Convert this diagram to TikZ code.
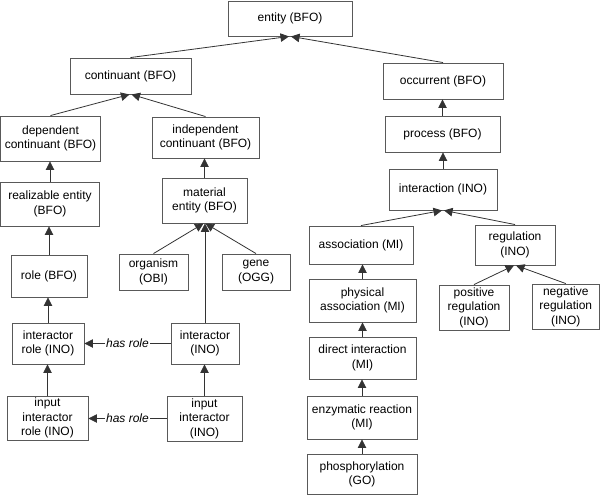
\documentclass[tikz,border=0pt]{standalone}
\usepackage{fontspec}
\setmainfont{Liberation Sans}
\usetikzlibrary{arrows.meta}
\begin{document}
\begin{tikzpicture}[x=1pt,y=-1pt,
  box/.style={draw=black!65,line width=0.9pt,fill=white,align=center,inner sep=0pt,
    font=\fontsize{12}{14.5}\selectfont},
  isa/.style={draw=black!80,line width=0.8pt,-{Triangle[length=8.5pt,width=8.5pt]}},
  rel/.style={draw=black!80,line width=0.8pt,-{Triangle[length=8.5pt,width=8.5pt]}},
  rellabel/.style={fill=white,inner sep=1pt,font=\fontsize{12}{14.5}\selectfont\itshape}]
\useasboundingbox (0,0) rectangle (600,495);
\newcommand{\bx}[6]{\node[box,minimum width=#4pt,minimum height=#5pt] (#1) at (#2,#3) {#6};}
\bx{entity}{290}{18.5}{124}{35}{entity (BFO)}
\bx{cont}{130.5}{76}{121}{36}{continuant (BFO)}
\bx{dep}{50.5}{138.5}{99.5}{45}{dependent\\continuant (BFO)}
\bx{indep}{205.5}{137.5}{107}{41}{independent\\continuant (BFO)}
\bx{real}{50}{204}{98.5}{44}{realizable entity\\(BFO)}
\bx{mat}{204.5}{200.5}{85}{45}{material\\entity (BFO)}
\bx{role}{49}{276}{76}{42}{role (BFO)}
\bx{org}{153.5}{272}{69}{36}{organism\\(OBI)}
\bx{gene}{256}{272}{68}{36}{gene\\(OGG)}
\bx{irole}{48}{343.5}{72}{41}{interactor\\role (INO)}
\bx{inter}{205}{343.5}{68}{41}{interactor\\(INO)}
\bx{iirole}{47.5}{418}{81}{44}{input\\interactor\\role (INO)}
\bx{iinter}{204.5}{418.5}{75}{45}{input\\interactor\\(INO)}
\bx{occ}{443}{81}{120}{36}{occurrent (BFO)}
\bx{proc}{442.5}{134}{115}{36}{process (BFO)}
\bx{inton}{443}{189.5}{108}{41}{interaction (INO)}
\bx{assoc}{361}{245}{104}{38}{association (MI)}
\bx{reg}{515}{245}{80}{40}{regulation\\(INO)}
\bx{phys}{362.5}{300.5}{107}{43}{physical\\association (MI)}
\bx{pos}{474}{307.5}{70}{45}{positive\\regulation\\(INO)}
\bx{neg}{565.75}{306.5}{67}{45}{negative\\regulation\\(INO)}
\bx{direct}{362.5}{358}{107}{42}{direct interaction\\(MI)}
\bx{enz}{362}{417.5}{110}{43}{enzymatic reaction\\(MI)}
\bx{phos}{362}{474.25}{110}{40.5}{phosphorylation\\(GO)}
% is-a edges
\draw[isa] (cont.north) -- ([xshift=-1pt]entity.south);
\draw[isa] (occ.north) -- ([xshift=1pt]entity.south);
\draw[isa] (dep.north) -- ([xshift=-1pt]cont.south);
\draw[isa] (indep.north) -- ([xshift=1pt]cont.south);
\draw[isa] (real.north) -- (real.north |- dep.south);
\draw[isa] (mat.north) -- (mat.north |- indep.south);
\draw[isa] (role.north) -- (role.north |- real.south);
\draw[isa] (irole.north) -- (irole.north |- role.south);
\draw[isa] (iirole.north) -- (iirole.north |- irole.south);
\draw[isa] (org.north) -- ([xshift=-1pt]mat.south);
\draw[isa] (gene.north) -- ([xshift=1pt]mat.south);
\draw[isa] (inter.north) -- (inter.north |- mat.south);
\draw[isa] (iinter.north) -- (iinter.north |- inter.south);
\draw[isa] (proc.north) -- (proc.north |- occ.south);
\draw[isa] (inton.north) -- (inton.north |- proc.south);
\draw[isa] (assoc.north) -- ([xshift=-1pt]inton.south);
\draw[isa] (reg.north) -- ([xshift=1pt]inton.south);
\draw[isa] (phys.north) -- (phys.north |- assoc.south);
\draw[isa] (direct.north) -- (direct.north |- phys.south);
\draw[isa] (enz.north) -- (enz.north |- direct.south);
\draw[isa] (phos.north) -- (phos.north |- enz.south);
\draw[isa] (pos.north) -- ([xshift=-1pt]reg.south);
\draw[isa] (neg.north) -- ([xshift=1pt]reg.south);
% has role edges
\draw[rel] (inter.west) -- node[rellabel] {has role} (inter.west -| irole.east);
\draw[rel] (iinter.west) -- node[rellabel] {has role} (iinter.west -| iirole.east);
\end{tikzpicture}
\end{document}
